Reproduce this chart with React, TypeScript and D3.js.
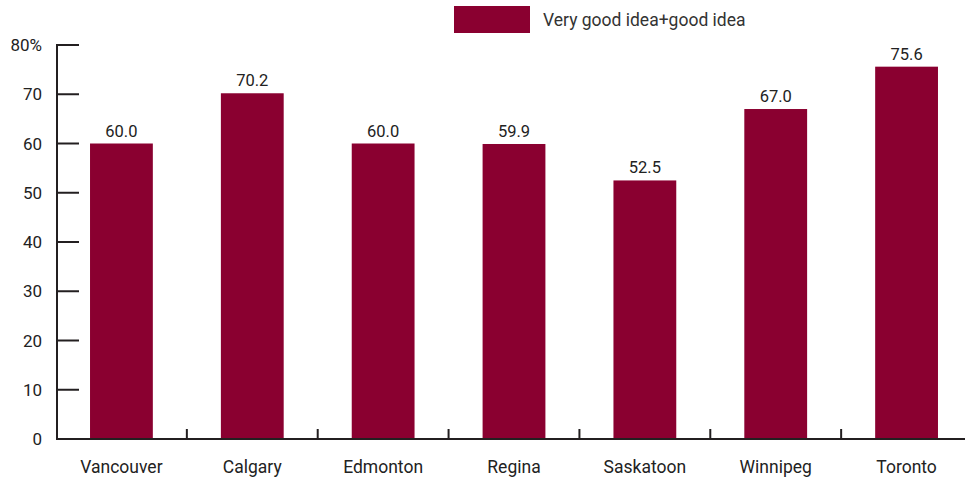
import React from "react";
import * as d3 from "d3";

const categories = ["Vancouver", "Calgary", "Edmonton", "Regina", "Saskatoon", "Winnipeg", "Toronto"];
const values = [60.0, 70.2, 60.0, 59.9, 52.5, 67.0, 75.6];
const yTicks = [0, 10, 20, 30, 40, 50, 60, 70, 80];
const seriesName = "Very good idea+good idea";

export default function App() {
  const W = 965, H = 478;
  const color = "#8a0030";
  const axisColor = "#231f20";
  const font = "Roboto, 'Liberation Sans', Arial, sans-serif";
  const x = d3.scaleBand<string>().domain(categories).range([56, 972]).paddingInner(0.52).paddingOuter(0.26);
  const y = d3.scaleLinear().domain([0, 80]).range([439, 45]);
  const step = x.step();
  return (
    <svg width={W} height={H} style={{ position: "absolute", left: 0, top: 0, fontFamily: font }}>
      <rect x={454} y={6} width={76} height={27} fill={color} />
      <text x={543} y={26} fontSize={17.5} fill="#333">{seriesName}</text>
      {categories.map((c, i) => (
        <g key={c}>
          <rect x={x(c)!} y={y(values[i])} width={x.bandwidth()} height={y(0) - y(values[i])} fill={color} />
          <text x={x(c)! + x.bandwidth() / 2} y={y(values[i]) - 7} textAnchor="middle" fontSize={16.5} fill="#222">
            {values[i].toFixed(1)}
          </text>
          <text x={x(c)! + x.bandwidth() / 2} y={473} textAnchor="middle" fontSize={17.5} fill="#222">{c}</text>
        </g>
      ))}
      {categories.slice(1).map((c) => (
        <line key={"t" + c} x1={x(c)! - (step - x.bandwidth()) / 2} x2={x(c)! - (step - x.bandwidth()) / 2} y1={439} y2={429} stroke={axisColor} strokeWidth={2} />
      ))}
      <line x1={57} x2={W} y1={439} y2={439} stroke={axisColor} strokeWidth={2} />
      <line x1={57} x2={57} y1={44} y2={440} stroke={axisColor} strokeWidth={2} />
      {yTicks.map((t) => (
        <g key={t}>
          <line x1={57} x2={79} y1={y(t)} y2={y(t)} stroke={axisColor} strokeWidth={2} />
          <text x={42} y={y(t) + 6} textAnchor="end" fontSize={17} fill="#222">{t === 80 ? "80%" : t}</text>
        </g>
      ))}
    </svg>
  );
}
